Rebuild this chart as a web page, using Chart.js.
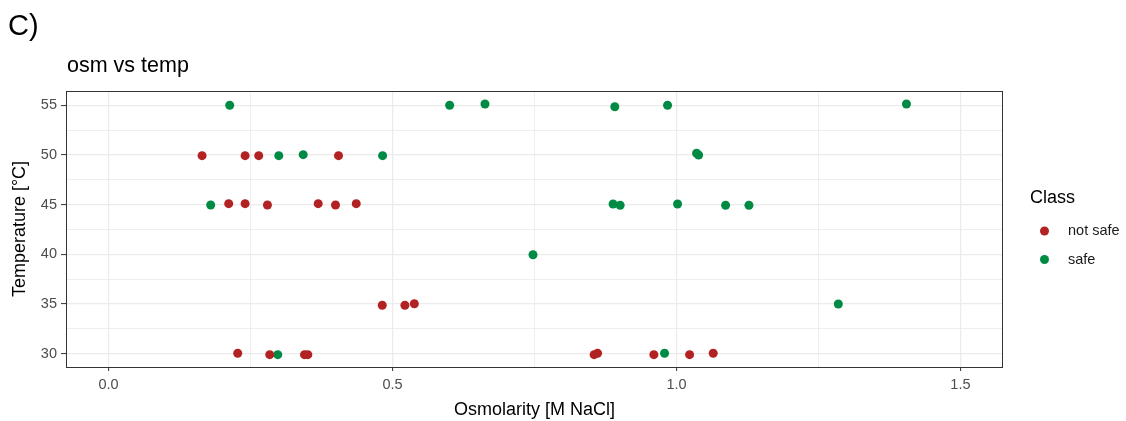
<!DOCTYPE html>
<html>
<head>
<meta charset="utf-8">
<script src="https://cdn.jsdelivr.net/npm/chart.js@4"></script>
<style>
  html, body { margin: 0; padding: 0; background: #ffffff; }
  #wrap { width: 1126px; height: 421px; position: relative; }
</style>
</head>
<body>
<div id="wrap"><canvas id="c" width="1126" height="421"></canvas></div>
<script>
// ---- data ----
const classes = ["not safe", "safe"];
const notSafeX = [0.1646, 0.2404, 0.2644, 0.4049,
                  0.2115, 0.2404, 0.2797, 0.3691, 0.3996, 0.4361,
                  0.2274, 0.2838, 0.3450, 0.3508, 0.8550, 0.8610, 0.9602, 1.0231, 1.0647,
                  0.4819, 0.5218, 0.5384];
const notSafeY = [49.93, 49.93, 49.93, 49.93,
                  45.10, 45.10, 44.97, 45.10, 44.97, 45.10,
                  30.04, 29.90, 29.90, 29.90, 29.90, 30.04, 29.90, 29.90, 30.04,
                  34.87, 34.87, 35.03];
const safeX = [0.2133, 0.6006, 0.6628, 0.8914, 0.9843, 1.4050,
               0.2997, 0.3427, 0.4825, 1.0354, 1.0390,
               0.1798, 0.8884, 0.9008, 1.0019, 1.0865, 1.1276,
               0.7474, 1.2850, 0.2979, 0.9790];
const safeY = [55.00, 55.00, 55.13, 54.86, 55.00, 55.13,
               49.93, 50.03, 49.93, 50.17, 50.00,
               44.97, 45.07, 44.94, 45.07, 44.94, 44.94,
               39.96, 35.00, 29.90, 30.04];
const xMajorTicks = [0, 0.5, 1.0, 1.5];
const xMinorTicks = [0.25, 0.75, 1.25];
const yMajorTicks = [30, 35, 40, 45, 50, 55];
const yMinorTicks = [32.5, 37.5, 42.5, 47.5, 52.5];
const panelLabel = "C)";
const chartTitle = "osm vs temp";
const xTitle = "Osmolarity [M NaCl]";
const yTitle = "Temperature [°C]";
const legendTitle = "Class";

// ---- styling ----
const colors = ["#B22222", "#008B45"];
const FONT = "'Liberation Sans', Arial, sans-serif";

function toPoints(xs, ys) { return xs.map((x, i) => ({ x: x, y: ys[i] })); }
function isMajor(list, v) { return list.some(m => Math.abs(m - v) < 1e-9); }

const allX = xMajorTicks.concat(xMinorTicks).sort((a, b) => a - b);
const allY = yMajorTicks.concat(yMinorTicks).sort((a, b) => a - b);

const decor = {
  id: 'decor',
  afterDatasetsDraw(chart) {
    const ctx = chart.ctx, a = chart.chartArea;
    ctx.save();
    // panel border
    ctx.strokeStyle = '#333333';
    ctx.lineWidth = 1;
    ctx.strokeRect(Math.round(a.left) + 0.5, Math.round(a.top) + 0.5,
                   Math.round(a.right - a.left) - 1, Math.round(a.bottom - a.top));
    ctx.restore();
  },
  afterDraw(chart) {
    const ctx = chart.ctx, a = chart.chartArea;
    ctx.save();
    ctx.fillStyle = '#000000';
    ctx.textAlign = 'left';
    ctx.textBaseline = 'alphabetic';
    ctx.font = "29px " + FONT;
    ctx.fillText(panelLabel, 8, 35);
    ctx.font = "21.5px " + FONT;
    ctx.fillText(chartTitle, 67, 72);
    // axis titles
    ctx.font = "18px " + FONT;
    ctx.textAlign = 'center';
    ctx.textBaseline = 'middle';
    ctx.fillText(xTitle, (a.left + a.right) / 2, 410);
    ctx.save();
    ctx.translate(20, (a.top + a.bottom) / 2);
    ctx.rotate(-Math.PI / 2);
    ctx.fillText(yTitle, 0, 0);
    ctx.restore();
    // legend
    ctx.textAlign = 'left';
    ctx.font = "18px " + FONT;
    ctx.fillText(legendTitle, 1030, 198);
    ctx.font = "14.5px " + FONT;
    const ly = [231, 259.5];
    classes.forEach((c, i) => {
      ctx.fillStyle = colors[i];
      ctx.beginPath();
      ctx.arc(1044.5, ly[i], 4.5, 0, Math.PI * 2);
      ctx.fill();
      ctx.fillStyle = '#1A1A1A';
      ctx.fillText(c, 1068, ly[i]);
    });
    ctx.restore();
  }
};

new Chart(document.getElementById('c'), {
  type: 'scatter',
  data: {
    datasets: [
      { label: classes[0], data: toPoints(notSafeX, notSafeY), backgroundColor: colors[0], borderWidth: 0, pointRadius: 4.5, pointHoverRadius: 4.5 },
      { label: classes[1], data: toPoints(safeX, safeY), backgroundColor: colors[1], borderWidth: 0, pointRadius: 4.5, pointHoverRadius: 4.5 }
    ]
  },
  options: {
    responsive: false,
    animation: false,
    devicePixelRatio: 1,
    layout: { padding: { left: 0, top: 91, right: 123, bottom: 0 } },
    plugins: { legend: { display: false }, title: { display: false }, tooltip: { enabled: false } },
    scales: {
      x: {
        type: 'linear', min: -0.075, max: 1.575,
        afterBuildTicks: s => { s.ticks = allX.map(v => ({ value: v })); },
        afterFit: s => { s.height = 54; },
        border: { display: false },
        grid: {
          color: '#EBEBEB',
          lineWidth: c => (c.tick && isMajor(xMajorTicks, c.tick.value)) ? 1.2 : 0.8,
          tickColor: c => (c.tick && isMajor(xMajorTicks, c.tick.value)) ? '#333333' : 'rgba(0,0,0,0)',
          tickLength: 4,
          tickWidth: 1
        },
        ticks: {
          autoSkip: false, maxRotation: 0, padding: 5,
          color: '#4D4D4D', font: { family: FONT, size: 14.5 },
          callback: v => isMajor(xMajorTicks, v) ? v.toFixed(1) : ''
        }
      },
      y: {
        type: 'linear', min: 28.66, max: 56.44,
        afterBuildTicks: s => { s.ticks = allY.map(v => ({ value: v })); },
        afterFit: s => { s.width = 66; },
        border: { display: false },
        grid: {
          color: '#EBEBEB',
          lineWidth: c => (c.tick && isMajor(yMajorTicks, c.tick.value)) ? 1.2 : 0.8,
          tickColor: c => (c.tick && isMajor(yMajorTicks, c.tick.value)) ? '#333333' : 'rgba(0,0,0,0)',
          tickLength: 5,
          tickWidth: 1
        },
        ticks: {
          autoSkip: false, padding: 4,
          color: '#4D4D4D', font: { family: FONT, size: 14.5 },
          callback: v => isMajor(yMajorTicks, v) ? String(v) : ''
        }
      }
    }
  },
  plugins: [decor]
});
</script>
</body>
</html>
